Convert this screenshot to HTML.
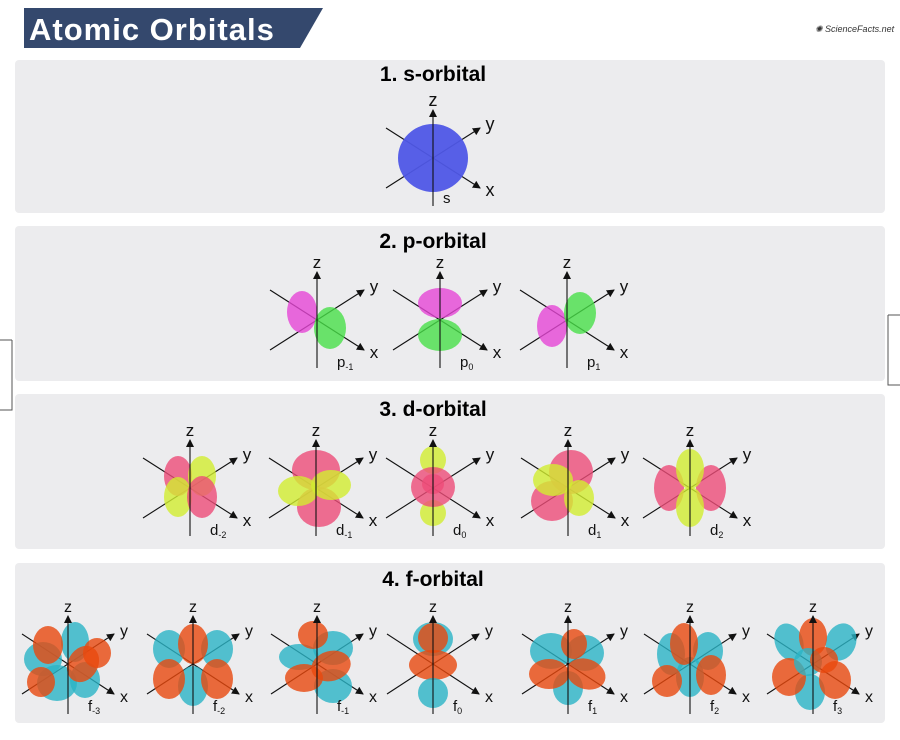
<!DOCTYPE html>
<html><head><meta charset="utf-8"><style>
html,body{margin:0;padding:0;background:#fff;}
svg{display:block;font-family:"Liberation Sans",sans-serif;}
</style></head><body>
<svg id="c" width="900" height="740" viewBox="0 0 900 740">
<defs><marker id="ah" markerWidth="8" markerHeight="8" refX="7" refY="4" orient="auto" markerUnits="userSpaceOnUse"><path d="M0,0 L8,4 L0,8 Z" fill="#111"/></marker></defs>
<polygon points="24,8 323,8 300,48 24,48" fill="#34486d"/>
<text x="29" y="40" font-size="31" font-weight="bold" fill="#fff" letter-spacing="1">Atomic Orbitals</text>
<text x="815" y="32" font-size="9" font-style="italic" fill="#333">✺ ScienceFacts.net</text>
<rect x="15" y="60" width="870" height="153" rx="4" fill="#ececee"/>
<rect x="15" y="226" width="870" height="155" rx="4" fill="#ececee"/>
<rect x="15" y="394" width="870" height="155" rx="4" fill="#ececee"/>
<rect x="15" y="563" width="870" height="160" rx="4" fill="#ececee"/>
<path d="M12,340 H0 M12,340 V410 H0" stroke="#555" fill="none"/>
<path d="M888,315 H900 M888,315 V385 H900" stroke="#555" fill="none"/>
<text x="433" y="81" font-size="21" font-weight="bold" text-anchor="middle">1. s-orbital</text>
<text x="433" y="248" font-size="21" font-weight="bold" text-anchor="middle">2. p-orbital</text>
<text x="433" y="416" font-size="21" font-weight="bold" text-anchor="middle">3. d-orbital</text>
<text x="433" y="586" font-size="21" font-weight="bold" text-anchor="middle">4. f-orbital</text>
<g id="orbs"></g>
</svg>
<script>
const C={b:"#4f57e6",m:"#e646d6",g:"#48e048",pk:"#ee4c78",yg:"#d2ee30",o:"#e8480e",t:"#2ab4c6"};
// lobes: [color, dx, dy, rx, ry, rotation]
const orbitalNames=["s","p","p","p","d","d","d","d","d","f","f","f","f","f","f","f"];
const orbitalSubs=["","-1","0","1","-2","-1","0","1","2","-3","-2","-1","0","1","2","3"];
const orbitalCx=[433,317,440,567,190,316,433,568,690,68,193,317,433,568,690,813];
const orbitalCy=[158,320,320,320,488,488,488,488,488,664,664,664,664,664,664,664];
const orbitalLobes=[
[["b",0,0,35,34,0]],
[["m",-15,-8,15,21,0],["g",13,8,16,21,0]],
[["m",0,-17,22,15,0],["g",0,15,22,16,0]],
[["m",-15,6,15,21,0],["g",13,-7,16,21,0]],
[["pk",-12,-12,14,20,0],["yg",12,-12,14,20,0],["yg",-12,9,14,20,0],["pk",12,9,15,21,0]],
[["pk",0,-18,24,20,0],["pk",3,19,22,20,0],["yg",-18,3,20,15,0],["yg",15,-3,20,15,0]],
[["yg",0,-28,13,14,0],["yg",0,25,13,13,0],["pk",0,-1,22,20,0],["pk",0,-4,11,10,0]],
[["pk",3,-16,22,22,0],["pk",-16,13,21,20,0],["yg",-15,-8,20,16,0],["yg",11,10,15,18,0]],
[["pk",-21,0,15,23,0],["pk",21,0,15,23,0],["yg",0,-19,14,20,0],["yg",0,19,14,20,0]],
[["t",-25,-5,19,17,0],["t",7,-22,14,20,0],["t",-11,19,20,18,0],["t",17,16,15,18,0],["o",-20,-19,15,19,0],["o",29,-11,14,15,0],["o",-27,18,14,15,0],["o",15,0,15,19,30]],
[["t",-24,-15,16,19,0],["t",24,-15,16,19,0],["t",0,22,15,20,0],["o",0,-20,15,20,0],["o",-24,15,16,20,0],["o",24,15,16,20,0]],
[["t",-18,-7,20,13,0],["t",16,-16,20,17,0],["t",16,22,19,17,0],["o",-4,-29,15,14,0],["o",-13,14,19,14,0],["o",14,2,20,15,-15]],
[["t",0,-25,20,17,0],["o",0,-26,15,15,0],["o",0,1,24,15,0],["t",0,29,15,15,0]],
[["t",-17,-13,21,18,0],["t",17,-11,19,18,0],["t",0,24,15,17,0],["o",6,-20,13,15,0],["o",-19,10,20,15,0],["o",18,10,20,15,20]],
[["t",-19,-10,14,21,0],["t",18,-13,15,19,0],["t",0,13,14,20,0],["o",-6,-20,14,21,0],["o",-23,17,15,16,0],["o",21,11,15,20,0]],
[["t",-24,-22,14,19,-20],["t",28,-22,15,19,20],["t",-3,28,15,18,0],["o",0,-27,14,19,0],["o",-24,13,17,19,0],["o",22,16,16,19,0],["t",-5,-2,14,14,0],["o",11,-4,14,13,0]]
];
const g=document.getElementById("orbs");
const NS="http://www.w3.org/2000/svg";
function mk(tag,attrs){const e=document.createElementNS(NS,tag);for(const k in attrs)e.setAttribute(k,attrs[k]);return e;}
const fs=[18,17,17,17,17,17,17,17,17,16,16,16,16,16,16,16];
orbitalNames.forEach((n,i)=>{
  const cx=orbitalCx[i],cy=orbitalCy[i];
  const grp=mk("g",{});
  
  
  const isF=n==="f";
  const ax=isF?46:47, ay=isF?30:30;
  grp.appendChild(mk("line",{x1:cx-ax,y1:cy-ay,x2:cx+ax,y2:cy+ay,stroke:"#111","stroke-width":1.1,"marker-end":"url(#ah)"}));
  grp.appendChild(mk("line",{x1:cx-ax,y1:cy+ay,x2:cx+ax,y2:cy-ay,stroke:"#111","stroke-width":1.1,"marker-end":"url(#ah)"}));
  orbitalLobes[i].forEach(l=>{
    const e=mk("ellipse",{cx:cx+l[1],cy:cy+l[2],rx:l[3],ry:l[4],fill:C[l[0]],opacity:n==="s"?0.95:0.8,transform:`rotate(${l[5]} ${cx+l[1]} ${cy+l[2]})`});
    
    
    grp.appendChild(e);
  });
  grp.appendChild(mk("line",{x1:cx,y1:cy+(isF?50:48),x2:cx,y2:cy-(isF?48:48),stroke:"#111","stroke-width":1.1,"marker-end":"url(#ah)"}));
  const t=(x,y,s,sz)=>{const e=mk("text",{x:x,y:y,"font-size":sz,"text-anchor":"middle",fill:"#111"});e.textContent=s;return e;};
  const lz=t(cx,cy-52,"z",fs[i]);grp.appendChild(lz);
  const ly=t(cx+ax+10,cy-ay+2,"y",fs[i]);grp.appendChild(ly);
  const lx=t(cx+ax+10,cy+ay+8,"x",fs[i]);grp.appendChild(lx);
  const lab=mk("text",{x:cx+(n==="s"?10:20),y:cy+(n==="s"?45:47),"font-size":15,fill:"#111"});
  lab.textContent=n;
  if(orbitalSubs[i]){const ts=mk("tspan",{"font-size":9,dy:3});ts.textContent=orbitalSubs[i];lab.appendChild(ts);}
  
  
  grp.appendChild(lab);
  g.appendChild(grp);
});
</script>
</body></html>
